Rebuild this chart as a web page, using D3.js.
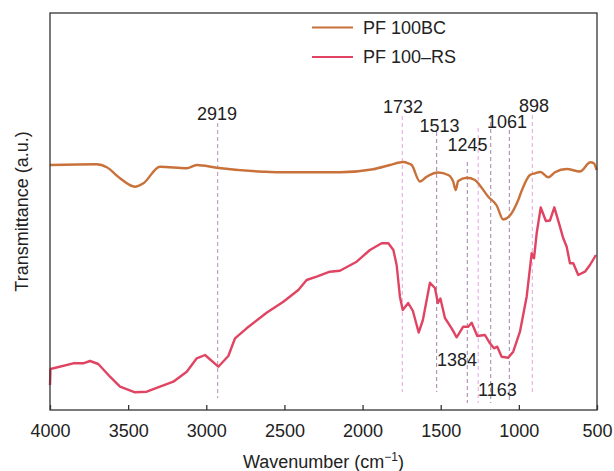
<!DOCTYPE html>
<html>
<head>
<meta charset="utf-8">
<script src="https://cdn.jsdelivr.net/npm/d3@7"></script>
<style>
  body { margin: 0; background: #fff; }
  text { font-family: "Liberation Sans", Arial, sans-serif; fill: #222; }
</style>
</head>
<body>
<svg id="chart" width="614" height="471"></svg>
<script>
// x ticks (wavenumber, cm-1)
const xTicks = [4000, 3500, 3000, 2500, 2000, 1500, 1000, 500];

// PF 100BC spectrum: wavenumber / transmittance (a.u.)
const bcWave = [4000, 3701, 3637, 3552, 3456, 3403, 3296, 3125, 3061, 2934, 2635, 2528, 2145, 1932, 1825, 1740, 1708, 1686, 1633, 1590, 1516, 1452, 1420, 1404, 1388, 1334, 1281, 1249, 1196, 1142, 1100, 1057, 1004, 980, 929, 897, 862, 812, 769, 694, 609, 542, 520, 503];
const bcValue = [245, 245.7, 242.7, 231.7, 223.3, 226.7, 243.3, 241.7, 245, 242.3, 238.3, 237.7, 237.7, 240.7, 245, 248, 246.7, 245, 228.5, 233.3, 237.5, 235, 228.3, 220, 229, 232.3, 230, 224.5, 213.3, 204.5, 190.5, 194.5, 210, 220, 235, 236.7, 238, 232.7, 237.7, 241, 238.5, 247.7, 246.7, 240];

// PF 100-RS spectrum
const rsWave = [4000, 3997, 3851, 3787, 3744, 3691, 3616, 3552, 3456, 3381, 3296, 3211, 3125, 3061, 3008, 2923, 2859, 2816, 2742, 2614, 2507, 2411, 2358, 2294, 2209, 2145, 2038, 1953, 1878, 1835, 1803, 1782, 1761, 1743, 1708, 1678, 1641, 1614, 1569, 1537, 1518, 1502, 1473, 1430, 1398, 1356, 1324, 1302, 1266, 1217, 1185, 1159, 1138, 1110, 1068, 1036, 993, 950, 918, 903, 886, 860, 827, 801, 773, 737, 716, 694, 673, 652, 620, 577, 545, 507];
const rsValue = [25, 41, 46.7, 46.7, 49, 46, 33.3, 23.3, 17.7, 18.3, 23.3, 28.3, 38.3, 51.7, 55, 43.3, 54, 71.7, 81.7, 97.3, 108.3, 120, 130, 133.3, 138.3, 139.3, 148.3, 160, 166.7, 166.7, 160, 145, 113.3, 100, 107, 99, 77.5, 90, 127.3, 122, 107, 111.5, 92, 81.7, 72.7, 83.3, 83.3, 87.3, 74, 75, 66.7, 61.7, 63.3, 53.3, 52.3, 58.3, 78.3, 113.3, 156.7, 151.7, 176.7, 202.5, 189, 189.5, 202.7, 183.3, 171.7, 163.3, 146.7, 146.7, 135, 138.3, 145, 155];

// dashed marker lines (wavenumber) and their labels
const markerWave = [2927, 1746, 1526, 1330, 1260, 1180, 1061, 914];
const peakLabels = ["2919", "1732", "1513", "1245", "1061", "898", "1384", "1163"];
const peakLabelWave = [2931, 1741, 1508, 1329, 1076, 903, 1396, 1137];

const seriesNames = ["PF 100BC", "PF 100\u2013RS"];

const svg = d3.select("#chart");
const mLeft = 50, mRight = 597, mTop = 13, mBottom = 410;

const x = d3.scaleLinear().domain([4000, 500]).range([mLeft, mRight]);
const y = d3.scaleLinear().domain([0, 397]).range([mBottom, mTop]);

// marker extents [top, bottom] in y units, plus colour (light / dark)
const markerSpan = [[287, 12], [294, 18], [278, 18], [248, 7], [282, 7], [295, 7], [280, 7], [295, 18]];
const markerColor = ["#b58fb8", "#e3a6e3", "#a583a8", "#a583a8", "#e3a6e3", "#a583a8", "#a583a8", "#e3a6e3"];
// label baseline in y units
const labelY = [290, 297, 278, 259, 282, 298, 44.5, 14.5];

svg.selectAll(".marker")
  .data(markerWave)
  .join("line")
  .attr("class", "marker")
  .attr("x1", (d) => x(d))
  .attr("x2", (d) => x(d))
  .attr("y1", (d, i) => y(markerSpan[i][0]))
  .attr("y2", (d, i) => y(markerSpan[i][1]))
  .attr("stroke", (d, i) => markerColor[i])
  .attr("stroke-width", 1)
  .attr("stroke-dasharray", "4,3");

// spectra
const line = d3.line()
  .x((d) => x(d[0]))
  .y((d) => y(d[1]))
  .curve(d3.curveMonotoneX);

svg.append("path")
  .datum(d3.zip(bcWave, bcValue))
  .attr("fill", "none")
  .attr("stroke", "#c9713a")
  .attr("stroke-width", 2.4)
  .attr("stroke-linejoin", "round")
  .attr("d", line);

svg.append("path")
  .datum(d3.zip(rsWave, rsValue))
  .attr("fill", "none")
  .attr("stroke", "#e04462")
  .attr("stroke-width", 2.4)
  .attr("stroke-linejoin", "round")
  .attr("d", d3.line().x((d) => x(d[0])).y((d) => y(d[1])));

// peak labels
svg.selectAll(".peak")
  .data(peakLabels)
  .join("text")
  .attr("class", "peak")
  .attr("x", (d, i) => x(peakLabelWave[i]))
  .attr("y", (d, i) => y(labelY[i]))
  .attr("text-anchor", "middle")
  .attr("font-size", "18px")
  .text((d) => d);

// frame
svg.append("rect")
  .attr("x", mLeft)
  .attr("y", mTop)
  .attr("width", mRight - mLeft)
  .attr("height", mBottom - mTop)
  .attr("fill", "none")
  .attr("stroke", "#333")
  .attr("stroke-width", 1.3);

// bottom axis, ticks pointing inward
const xAxis = svg.append("g")
  .attr("transform", "translate(0," + mBottom + ")")
  .call(d3.axisBottom(x).tickValues(xTicks).tickSizeInner(-5).tickSizeOuter(0).tickPadding(14).tickFormat(d3.format("d")));
xAxis.select(".domain").remove();
xAxis.selectAll("line").attr("stroke", "#333").attr("stroke-width", 1.3);
xAxis.selectAll("text")
  .attr("font-size", "18px")
  .attr("font-family", "'Liberation Sans', Arial, sans-serif")
  .attr("fill", "#222");

// axis titles
const xt = svg.append("text")
  .attr("x", (mLeft + mRight) / 2)
  .attr("y", 468)
  .attr("text-anchor", "middle")
  .attr("font-size", "18px");
xt.append("tspan").text("Wavenumber (cm");
xt.append("tspan").attr("dy", -7).attr("font-size", "12px").text("\u22121");
xt.append("tspan").attr("dy", 7).text(")");

svg.append("text")
  .attr("transform", "translate(28," + (mTop + mBottom) / 2 + ") rotate(-90)")
  .attr("text-anchor", "middle")
  .attr("font-size", "18px")
  .text("Transmittance (a.u.)");

// legend
const legendColor = ["#c9713a", "#e04462"];
const legend = svg.selectAll(".legend")
  .data(seriesNames)
  .join("g")
  .attr("class", "legend")
  .attr("transform", (d, i) => "translate(312," + (27.5 + i * 29.5) + ")");
legend.append("line")
  .attr("x1", 0).attr("x2", 41)
  .attr("stroke", (d, i) => legendColor[i])
  .attr("stroke-width", 2.2);
legend.append("text")
  .attr("x", 51)
  .attr("y", 6)
  .attr("font-size", "18px")
  .text((d) => d);
</script>
</body>
</html>
